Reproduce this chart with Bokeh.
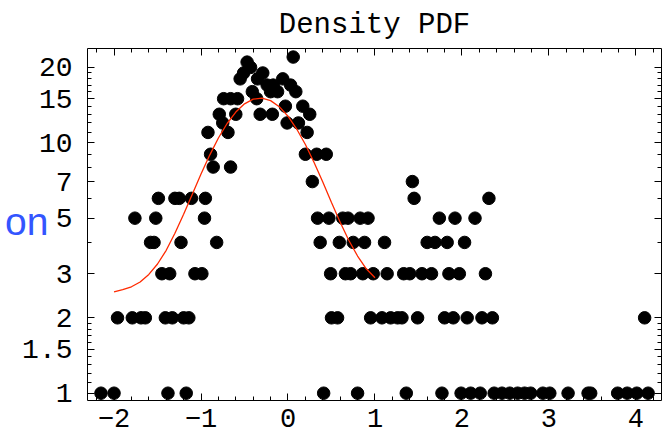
from bokeh.plotting import figure
from bokeh.models import (LinearAxis, LogAxis, FixedTicker, PrintfTickFormatter, Range1d)
from bokeh.embed import file_html
from bokeh.resources import INLINE

# Histogram of the density: bin centre (x) and number of hits in that bin
bin_x = [
    # 1 hit
    -2.15, -2.00, -1.38, -1.17, 0.41, 0.80, 1.36, 1.77, 1.99, 2.10, 2.21, 2.37, 2.46,
    2.55, 2.64, 2.72, 2.79, 2.93, 3.01, 3.22, 3.45, 3.48, 3.79, 3.90, 4.01, 4.14,
    # 2 hits
    -1.96, -1.79, -1.69, -1.64, -1.41, -1.33, -1.20, -1.14, 0.50, 0.57, 0.95, 1.08,
    1.18, 1.26, 1.31, 1.49, 1.80, 1.90, 2.06, 2.23, 2.35, 4.10,
    # 3 hits
    -1.45, -1.36, -1.07, -0.99, 0.49, 0.66, 0.72, 0.86, 0.98, 1.14, 1.33, 1.40, 1.54,
    1.65, 1.85, 1.97, 2.27,
    # 4 hits
    -1.58, -1.54, -1.23, -0.82, 0.37, 0.59, 0.75, 0.88, 1.11, 1.60, 1.69, 1.83, 2.03,
    # 5 hits
    -1.76, -1.52, -0.96, 0.34, 0.47, 0.63, 0.69, 0.83, 0.92, 1.74, 1.92, 2.15,
    # 6 hits
    -1.49, -1.30, -1.25, -1.11, -0.95, 1.45, 2.31,
    # 7, 8, 9 hits
    0.28, 1.43,
    -0.86, -0.66,
    -0.89, 0.20, 0.33, 0.44,
    # 11 to 14 hits
    -0.92, -0.69, 0.22,
    -0.75, -0.01, 0.12,
    -0.79, -0.60, -0.32, -0.18, 0.25,
    -0.03, 0.17,
    # 15 to 22 hits
    -0.74, -0.66, -0.58, -0.36,
    -0.41, -0.20, -0.12, 0.09,
    -0.24, -0.17, 0.03,
    -0.55, -0.35, -0.06,
    -0.51, -0.29,
    -0.43,
    -0.47,
    0.06,
]
bin_count = [
    1, 1, 1, 1, 1, 1, 1, 1, 1, 1, 1, 1, 1,
    1, 1, 1, 1, 1, 1, 1, 1, 1, 1, 1, 1, 1,
    2, 2, 2, 2, 2, 2, 2, 2, 2, 2, 2, 2,
    2, 2, 2, 2, 2, 2, 2, 2, 2, 2,
    3, 3, 3, 3, 3, 3, 3, 3, 3, 3, 3, 3, 3,
    3, 3, 3, 3,
    4, 4, 4, 4, 4, 4, 4, 4, 4, 4, 4, 4, 4,
    5, 5, 5, 5, 5, 5, 5, 5, 5, 5, 5, 5,
    6, 6, 6, 6, 6, 6, 6,
    7, 7,
    8, 8,
    9, 9, 9, 9,
    11, 11, 11,
    12, 12, 12,
    13, 13, 13, 13, 13,
    14, 14,
    15, 15, 15, 15,
    16, 16, 16, 16,
    17, 17, 17,
    18, 18, 18,
    19, 19,
    20,
    21,
    22,
]

# Fitted normal density, sampled on the fit interval
curve_x = [-2.0, -1.9, -1.8, -1.7, -1.6, -1.5, -1.4, -1.3, -1.2, -1.1, -1.0,
           -0.9, -0.8, -0.7, -0.6, -0.5, -0.4, -0.3, -0.2, -0.1, 0.0,
           0.1, 0.2, 0.3, 0.4, 0.5, 0.6, 0.7, 0.8, 0.9, 1.0]
curve_y = [2.54, 2.59, 2.66, 2.78, 2.98, 3.28, 3.72, 4.35, 5.18, 6.23, 7.50,
           8.93, 10.45, 11.94, 13.27, 14.31, 14.94, 15.09, 14.74, 13.94, 12.77,
           11.35, 9.84, 8.34, 6.97, 5.78, 4.82, 4.07, 3.53, 3.14, 2.89]

# Axis ticks
x_ticks = [-2, -1, 0, 1, 2, 3, 4]
x_minor = [-2.2, -1.8, -1.6, -1.4, -1.2, -0.8, -0.6, -0.4, -0.2,
           0.2, 0.4, 0.6, 0.8, 1.2, 1.4, 1.6, 1.8, 2.2, 2.4, 2.6, 2.8,
           3.2, 3.4, 3.6, 3.8, 4.2]
y_ticks = [1, 1.5, 2, 3, 5, 7, 10, 15, 20]
y_minor = [1.1, 1.2, 1.3, 1.4, 1.6, 1.7, 1.8, 1.9, 4, 6, 8, 9,
           11, 12, 13, 14, 16, 17, 18, 19]

# Blue side caption in the left margin, anchored at this height
caption_text = "on"
caption_at = 4.85

MONO = "Liberation Mono"
FS = "28px"

p = figure(width=664, height=429, y_axis_type="log",
           x_range=Range1d(-2.305, 4.294), y_range=Range1d(0.935, 23.8),
           output_backend="svg", toolbar_location=None,
           min_border_left=87, min_border_right=3,
           min_border_top=46, min_border_bottom=28,
           title="Density PDF")
p.background_fill_color = "white"
p.border_fill_color = "white"
p.outline_line_color = None
p.xgrid.visible = False
p.ygrid.visible = False

p.title.text_font = MONO
p.title.text_font_size = "29px"
p.title.text_font_style = "normal"
p.title.text_color = "black"
p.title.align = "center"
p.title.standoff = 13


def style_axis(ax, show_labels):
    ax.axis_line_color = "black"
    ax.axis_line_width = 1
    ax.major_tick_in = 7
    ax.major_tick_out = 0
    ax.minor_tick_in = 4
    ax.minor_tick_out = 0
    ax.major_tick_line_color = "black"
    ax.minor_tick_line_color = "black"
    ax.major_label_text_font = MONO
    if show_labels:
        ax.major_label_text_font_size = FS
        ax.major_label_text_color = "black"
    else:
        # tick marks only on the top and right frame edges
        ax.major_label_text_font_size = "1px"
        ax.major_label_text_color = None
        ax.major_label_standoff = 0


xt = FixedTicker(ticks=x_ticks, minor_ticks=x_minor)
yt = FixedTicker(ticks=y_ticks, minor_ticks=y_minor)

bottom = p.xaxis[0]
bottom.ticker = xt
style_axis(bottom, True)
bottom.major_label_text_font_size = "27px"
bottom.major_label_standoff = 8
bottom.major_label_overrides = {-2: "\u22122", -1: "\u22121"}

left = p.yaxis[0]
left.ticker = yt
left.formatter = PrintfTickFormatter(format="%g")
style_axis(left, True)
left.major_label_standoff = 15

top = LinearAxis(ticker=xt)
style_axis(top, False)
p.add_layout(top, "above")

right = LogAxis(ticker=yt)
style_axis(right, False)
p.add_layout(right, "right")

# Outer left axis that only carries the caption; the negative standoff pulls
# it in towards the number labels so the margin keeps its width
caption_axis = LogAxis(ticker=FixedTicker(ticks=[caption_at], minor_ticks=[]),
                       major_label_overrides={caption_at: caption_text})
caption_axis.axis_line_color = None
caption_axis.major_tick_line_color = None
caption_axis.minor_tick_line_color = None
caption_axis.major_tick_in = 0
caption_axis.major_tick_out = 0
caption_axis.minor_tick_in = 0
caption_axis.minor_tick_out = 0
caption_axis.major_label_standoff = -29
caption_axis.major_label_text_font = "Liberation Sans"
caption_axis.major_label_text_font_size = "39px"
caption_axis.major_label_text_color = "#3355ff"
p.add_layout(caption_axis, "left")

p.scatter(bin_x, bin_count, size=12.5, color="black")
p.line(curve_x, curve_y, line_color="#ff2a00", line_width=1.3)

open("out.html", "w").write(file_html(p, INLINE))
